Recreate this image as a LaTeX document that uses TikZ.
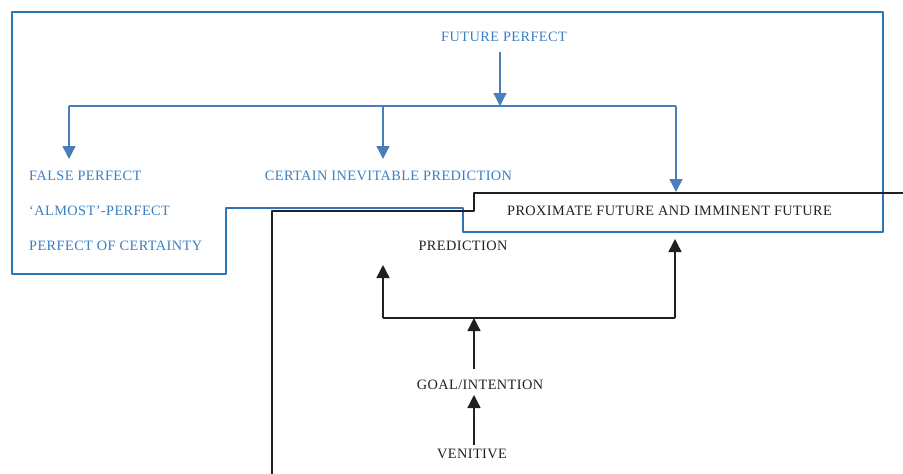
\documentclass[tikz,border=0pt]{standalone}
\usepackage{fontspec}
\setmainfont[LetterSpace=3]{Liberation Serif}
\usetikzlibrary{arrows.meta}
\definecolor{bluetext}{HTML}{3A7FC4}
\definecolor{bluearrow}{HTML}{4A7EBB}
\definecolor{blueframe}{HTML}{2F73B9}
\definecolor{darkline}{HTML}{231F20}
\tikzset{
  lbl/.style={inner sep=0pt, font=\fontsize{14.3}{16}\selectfont},
  bluelbl/.style={lbl, text=bluetext},
  blacklbl/.style={lbl, text=darkline},
  bluearr/.style={draw=bluearrow, line width=1.4pt, -{Triangle[width=13pt,length=13pt]}},
  blackarr/.style={draw=darkline, line width=1.4pt, -{Triangle[width=13pt,length=13pt]}},
  blueln/.style={draw=bluearrow, line width=1.4pt},
  blackln/.style={draw=darkline, line width=1.4pt},
  frame/.style={draw=blueframe, line width=2pt, line join=round},
  blackframe/.style={draw=darkline, line width=2pt, line join=round},
}
\begin{document}
\begin{tikzpicture}[x=1pt,y=-1pt]
\useasboundingbox (0,0) rectangle (903,474);
% blue frame
\draw[frame] (12,12) -- (883,12) -- (883,232) -- (463,232) -- (463,208) -- (226,208) -- (226,274) -- (12,274) -- cycle;
% black frame line
\draw[blackframe] (903,193) -- (474,193) -- (474,211) -- (272,211) -- (272,474);
% blue labels
\node[bluelbl] (fp) at (504,37) {FUTURE PERFECT};
\node[bluelbl, anchor=west] (false) at (29,176) {FALSE PERFECT};
\node[bluelbl, anchor=west] (almost) at (29,211) {‘ALMOST’-PERFECT};
\node[bluelbl, anchor=west] (cert) at (29,246) {PERFECT OF CERTAINTY};
\node[bluelbl] (cip) at (388.5,176) {CERTAIN INEVITABLE PREDICTION};
% black labels
\node[blacklbl] (prox) at (669.5,211) {PROXIMATE FUTURE AND IMMINENT FUTURE};
\node[blacklbl] (pred) at (463,246) {PREDICTION};
\node[blacklbl] (goal) at (480,385) {GOAL/INTENTION};
\node[blacklbl] (ven) at (472,454) {VENITIVE};
% coordinates
\coordinate (bj) at (500,106);
\coordinate (bl) at (69,106);
\coordinate (bm) at (383,106);
\coordinate (br) at (676,106);
\coordinate (kl) at (383,318);
\coordinate (kr) at (675,318);
\coordinate (kj) at (474,318);
% blue arrows
\draw[bluearr] (500,52) -- (bj);
\draw[blueln] (bl) -- (br);
\draw[bluearr] (bl) -- (69,159);
\draw[bluearr] (bm) -- (383,159);
\draw[bluearr] (br) -- (676,192);
% black arrows
\draw[blackln] (kl) -- (kr);
\draw[blackarr] (kl) -- (383,265);
\draw[blackarr] (kr) -- (675,239);
\draw[blackarr] (474,369) -- (kj);
\draw[blackarr] (474,445) -- (474,395);
\end{tikzpicture}
\end{document}
